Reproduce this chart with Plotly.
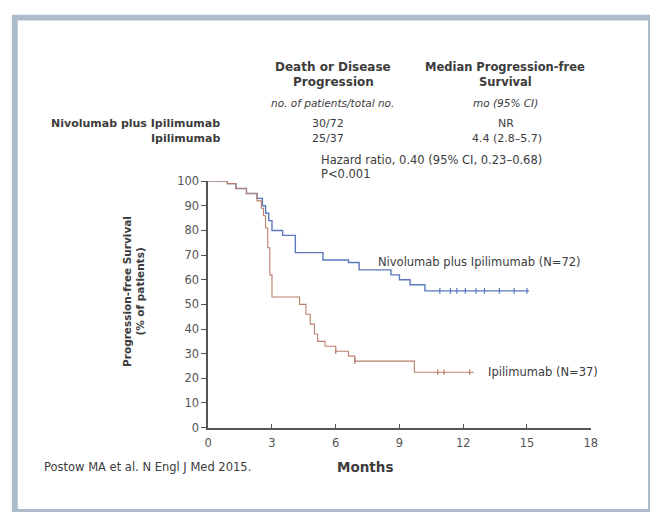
import plotly.graph_objects as go

W, H = 657, 519

# Kaplan-Meier step data: months and progression-free survival (%)
combo_months = [0, 0.9, 1.3, 1.8, 2.3, 2.55, 2.7, 2.85, 3.0, 3.5, 4.1, 5.4, 6.6, 7.1, 8.6, 9.0, 9.5, 10.2, 15.1]
combo_pfs = [100, 99, 97, 95, 93, 90, 87, 84, 80, 78, 71, 68, 67, 64, 62, 60, 58, 55.5, 55.5]
combo_censor_months = [10.9, 11.4, 11.7, 12.1, 12.6, 13.0, 13.7, 14.4, 15.0]

ipi_months = [0, 0.9, 1.3, 1.8, 2.3, 2.5, 2.6, 2.7, 2.8, 2.9, 3.0, 4.3, 4.6, 4.8, 5.0, 5.15, 5.5, 6.0, 6.6, 6.9, 9.7, 12.5]
ipi_pfs = [100, 99, 97, 95, 92, 89, 86, 81, 73, 62, 53, 50, 46, 42, 38, 35, 33, 31, 29, 27, 22.5, 22.5]
ipi_censor_months = [6.0, 6.9, 10.8, 11.1, 12.3]

x_ticks = [0, 3, 6, 9, 12, 15, 18]
y_ticks = [0, 10, 20, 30, 40, 50, 60, 70, 80, 90, 100]

BLUE = "#5a78bb"
RED = "#bb7e6a"
TEXT = "#3c3c3c"
FONT = "DejaVu Sans"


def step_value(months, values, t):
    v = values[0]
    for m, s in zip(months, values):
        if m <= t:
            v = s
    return v


fig = go.Figure()
fig.add_trace(go.Scatter(x=combo_months, y=combo_pfs, mode="lines",
                         line=dict(color=BLUE, width=1.4, shape="hv"),
                         showlegend=False, hoverinfo="skip"))
fig.add_trace(go.Scatter(x=ipi_months, y=ipi_pfs, mode="lines",
                         line=dict(color=RED, width=1.1, shape="hv"),
                         showlegend=False, hoverinfo="skip"))
fig.add_trace(go.Scatter(x=combo_censor_months,
                         y=[step_value(combo_months, combo_pfs, t) for t in combo_censor_months],
                         mode="markers",
                         marker=dict(symbol="line-ns", size=4, line=dict(color=BLUE, width=1.2)),
                         showlegend=False, hoverinfo="skip"))
fig.add_trace(go.Scatter(x=ipi_censor_months,
                         y=[step_value(ipi_months, ipi_pfs, t) for t in ipi_censor_months],
                         mode="markers",
                         marker=dict(symbol="line-ns", size=4, line=dict(color=RED, width=1.2)),
                         showlegend=False, hoverinfo="skip"))


def px(x):
    return x / W


def py(y):
    return 1 - y / H


# light frame around the figure
shapes = [
    dict(type="rect", xref="paper", yref="paper", x0=px(8), x1=px(657), y0=py(519), y1=py(8),
         fillcolor="#adbccb", line=dict(width=0), layer="below"),
    dict(type="rect", xref="paper", yref="paper", x0=px(14), x1=px(655), y0=py(516), y1=py(14),
         fillcolor="white", line=dict(width=0), layer="below"),
]

annotations = []


def label(x, y, text, size=11, bold=False, italic=False, anchor="center", color=TEXT, angle=0):
    t = text
    if bold:
        t = "<b>" + t + "</b>"
    if italic:
        t = "<i>" + t + "</i>"
    annotations.append(dict(x=px(x), y=py(y), xref="paper", yref="paper", text=t,
                            showarrow=False, xanchor=anchor, yanchor="middle",
                            textangle=angle,
                            font=dict(family=FONT, size=size, color=color)))


# summary table
label(335, 62, "Death or Disease", bold=True, size=12)
label(335, 77, "Progression", bold=True, size=12)
label(510, 62, "Median Progression-free", bold=True, size=11.5)
label(510, 77, "Survival", bold=True, size=11.5)
label(334, 99, "no. of patients/total no.", italic=True, size=10.5)
label(510, 99, "mo (95% CI)", italic=True, size=10.5)
label(222, 120, "Nivolumab plus Ipilimumab", bold=True, anchor="right", size=11)
label(222, 135, "Ipilimumab", bold=True, anchor="right", size=11)
label(330, 120, "30/72")
label(330, 135, "25/37")
label(511, 120, "NR")
label(512, 135, "4.4 (2.8\u20135.7)")
label(320, 157, "Hazard ratio, 0.40 (95% CI, 0.23\u20130.68)", anchor="left", size=11.5)
label(320, 172, "P<0.001", anchor="left", size=11.5)

# curve labels
label(378, 262, "Nivolumab plus Ipilimumab (N=72)", anchor="left", size=11.5)
label(490, 375, "Ipilimumab (N=37)", anchor="left", size=11.5)

# axis titles and source
annotations.append(dict(x=px(132), y=py(292), xref="paper", yref="paper",
                        text="<b>Progression-free Survival<br>(% of patients)</b>",
                        showarrow=False, textangle=-90, xanchor="center", yanchor="middle",
                        font=dict(family=FONT, size=10.5, color=TEXT)))
label(367, 473, "Months", bold=True, size=13.5)
label(39, 473, "Postow MA et al. N Engl J Med 2015.", anchor="left", size=11.5)

fig.update_layout(
    width=W, height=H,
    margin=dict(l=0, r=0, t=0, b=0),
    paper_bgcolor="white", plot_bgcolor="rgba(0,0,0,0)",
    shapes=shapes, annotations=annotations,
    font=dict(family=FONT, color=TEXT),
    xaxis=dict(domain=[px(207.7), px(596.7)], range=[0, 18], tickvals=x_ticks,
               showgrid=False, zeroline=False, showline=True, linecolor="#555555", linewidth=1.5,
               ticks="inside", ticklen=4, tickcolor="#555555", tickwidth=1.2,
               ticklabelstandoff=4,
               tickfont=dict(family=FONT, size=11.5, color="#555555")),
    yaxis=dict(domain=[1 - 432.3 / H, 1 - 179 / H], range=[0, 100], tickvals=y_ticks,
               showgrid=False, zeroline=False, showline=True, linecolor="#555555", linewidth=1.5,
               ticks="outside", ticklen=5, tickcolor="#555555", tickwidth=1.2,
               tickfont=dict(family=FONT, size=11.5, color="#555555")),
)

fig.write_html("out.html")
